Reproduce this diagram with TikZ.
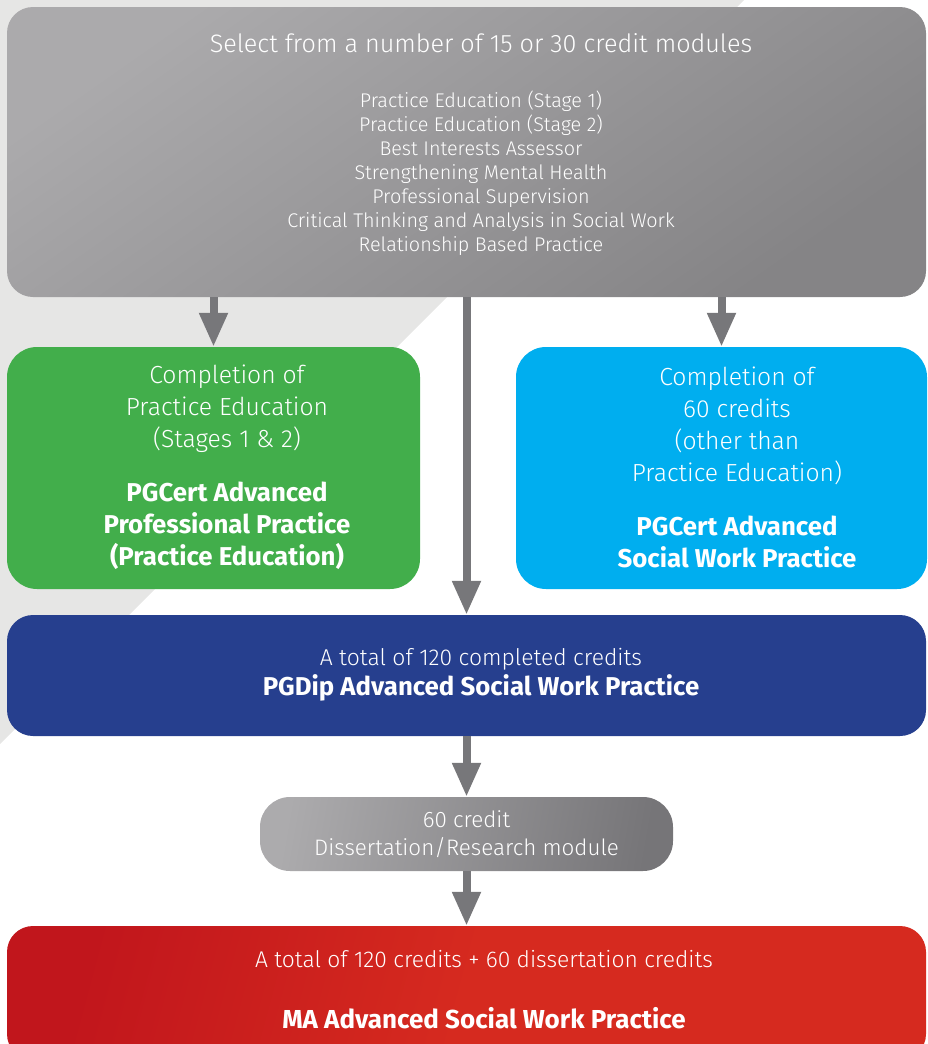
\documentclass[tikz,border=0pt]{standalone}
\usepackage{fontspec}
\setmainfont{Fira Sans Light}[BoldFont={Fira Sans Bold}]
\usetikzlibrary{arrows.meta}
\definecolor{bandgray}{HTML}{E6E6E5}
\definecolor{topL}{HTML}{ABAAAC}
\definecolor{topR}{HTML}{858486}
\definecolor{grn}{HTML}{42AE4B}
\definecolor{cyn}{HTML}{00AEEF}
\definecolor{blu}{HTML}{263F8E}
\definecolor{redL}{HTML}{C1161C}
\definecolor{redR}{HTML}{D62A1F}
\definecolor{disL}{HTML}{ACABAD}
\definecolor{disR}{HTML}{767578}
\definecolor{arrgray}{HTML}{77777A}
\begin{document}
\begin{tikzpicture}[x=1pt,y=-1pt,
  box/.style={rectangle, rounded corners=26pt, inner sep=0pt, draw=none},
  arr/.style={draw=arrgray, line width=8pt, -{Triangle[width=27pt,length=34pt]}},
  txt/.style={text=white, align=center, inner sep=0pt}]
\useasboundingbox (0,0) rectangle (927,1044);
\clip (0,0) rectangle (927,1044);
\fill[bandgray] (0,0) -- (744,0) -- (0,744) -- cycle;
% boxes
\node[box, minimum width=919pt, minimum height=290pt, top color=topL, bottom color=topR, shading angle=35] (top) at (466.5,152) {};
\node[box, fill=grn, minimum width=413pt, minimum height=242pt, rounded corners=30pt] (green) at (213.5,468) {};
\node[box, fill=cyn, minimum width=411pt, minimum height=242pt, rounded corners=30pt] (cyan) at (721.5,468) {};
\node[box, fill=blu, minimum width=919pt, minimum height=121pt] (blue) at (466.5,675.5) {};
\node[box, minimum width=413pt, minimum height=74pt, rounded corners=30pt, left color=disL, right color=disR, shading angle=80] (diss) at (466.5,834) {};
\node[box, minimum width=919pt, minimum height=134pt, left color=redL, right color=redR, middle color=redR, shading angle=75] (red) at (466.5,993) {};
% texts
\node[txt, font=\fontsize{25.2}{28}\selectfont] (ttitle) at (481,43) {Select from a number of 15 or 30 credit modules};
\node[txt, font=\fontsize{19.8}{24}\selectfont] (tlist) at (481,173) {Practice Education (Stage 1)\\Practice Education (Stage 2)\\Best Interests Assessor\\Strengthening Mental Health\\Professional Supervision\\Critical Thinking and Analysis in Social Work\\Relationship Based Practice};
\node[txt, font=\fontsize{24.7}{32}\selectfont] (tgreen) at (227,467) {Completion of\\Practice Education\\(Stages 1 \& 2)\\[22pt]\fontsize{25.8}{32}\selectfont\textbf{PGCert Advanced}\\\fontsize{25.8}{32}\selectfont\textbf{Professional Practice}\\\fontsize{25.8}{32}\selectfont\textbf{(Practice Education)}};
\node[txt, font=\fontsize{24.7}{32}\selectfont] (tcyan) at (737,467) {Completion of\\60 credits\\(other than\\Practice Education)\\[22pt]\fontsize{25.8}{32}\selectfont\textbf{PGCert Advanced}\\\fontsize{25.8}{32}\selectfont\textbf{Social Work Practice}};
\node[txt, font=\fontsize{22.9}{30}\selectfont] (tblue) at (481,675) {A total of 120 completed credits\\\fontsize{25.8}{30}\selectfont\textbf{PGDip Advanced Social Work Practice}};
\node[txt, font=\fontsize{22.4}{28}\selectfont] (tdiss) at (466.5,834) {60 credit\\Dissertation/Research module};
\node[txt, font=\fontsize{22.8}{28}\selectfont] (tred1) at (484,959) {A total of 120 credits + 60 dissertation credits};
\node[txt, font=\fontsize{26}{30}\selectfont\bfseries] (tred2) at (484,1018) {MA Advanced Social Work Practice};
% connectors
\draw[arr] (top.south -| green.north) -- (green.north);
\draw[arr] (top.south) -- (blue.north);
\draw[arr] (top.south -| cyan.north) -- (cyan.north);
\draw[arr] (blue.south) -- (diss.north);
\draw[arr] (diss.south) -- (red.north);
\end{tikzpicture}
\end{document}
